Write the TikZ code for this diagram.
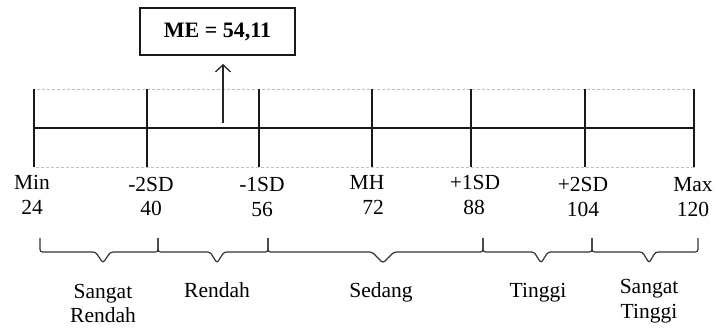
\documentclass[tikz,border=0pt]{standalone}
\usepackage{fontspec}
\setmainfont{Liberation Serif}
\usetikzlibrary{arrows.meta}
\begin{document}
\begin{tikzpicture}[x=1bp,y=-1bp,
  lab/.style={font=\fontsize{21.5bp}{24bp}\selectfont, inner sep=0pt, anchor=base},
  axis/.style={line width=1.4bp, draw=black!90},
  frame/.style={draw=black!25, line width=0.9bp, dash pattern=on 3bp off 2bp},
  brc/.style={draw=black!80, line width=1.2bp, rounded corners=2.5bp},
  mebox/.style={draw=black!90, line width=1.3bp, minimum width=155bp, minimum height=47bp,
    inner sep=0pt, font=\fontsize{22bp}{24bp}\selectfont\bfseries}]
\useasboundingbox (0,0) rectangle (716,327);

% dashed frame around the scale
\draw[frame] (34,89) rectangle (694,167);

% tick positions
\coordinate (t0) at (34,89);  \coordinate (u0) at (34,167);
\coordinate (t1) at (147,89); \coordinate (u1) at (147,167);
\coordinate (t2) at (259,89); \coordinate (u2) at (259,167);
\coordinate (t3) at (372,89); \coordinate (u3) at (372,167);
\coordinate (t4) at (471,89); \coordinate (u4) at (471,167);
\coordinate (t5) at (585,89); \coordinate (u5) at (585,167);
\coordinate (t6) at (694,89); \coordinate (u6) at (694,167);
\foreach \i in {0,...,6} \draw[axis] (t\i) -- (u\i);

% main axis line
\coordinate (axL) at (34,128);
\coordinate (axR) at (694,128);
\draw[line width=1.2bp, draw=black!90] (axL) -- (axR);

% mean marker and box
\node[mebox] (me) at (217.5,31.5) {ME = 54,11};
\coordinate (mepos) at (223,123);
\draw[line width=1.3bp, draw=black!85, -{Straight Barb[length=7bp,width=15bp]}]
  (mepos) -- (223,64);

% scale labels
\node[lab] (n0) at (32,189)  {Min};   \node[lab] (v0) at (32,214)  {24};
\node[lab] (n1) at (151,191) {-2SD};  \node[lab] (v1) at (151,215) {40};
\node[lab] (n2) at (262,191) {-1SD};  \node[lab] (v2) at (262,216) {56};
\node[lab] (n3) at (367,189) {MH};    \node[lab] (v3) at (373,214) {72};
\node[lab] (n4) at (475,189) {+1SD};  \node[lab] (v4) at (474,214) {88};
\node[lab] (n5) at (583,191) {+2SD};  \node[lab] (v5) at (583,216) {104};
\node[lab] (n6) at (693,191) {Max};   \node[lab] (v6) at (693,216) {120};

% category braces: end points, then the tip of each brace
\coordinate (b0) at (40,238);
\coordinate (b1) at (158,238);
\coordinate (b2) at (268,238);
\coordinate (b3) at (483,238);
\coordinate (b4) at (592,238);
\coordinate (b5) at (698,238);
\coordinate (p1) at (103,263);
\coordinate (p2) at (217,263);
\coordinate (p3) at (383,263);
\coordinate (p4) at (541,263);
\coordinate (p5) at (649,263);
\draw[brc] (b0) |- (95.5,252) -- (p1) -- (110.5,252) -| (b1);
\draw[brc] (b1) |- (210,252)  -- (p2) -- (224,252)   -| (b2);
\draw[brc] (b2) |- (372,252)  -- (p3) -- (394,252)   -| (b3);
\draw[brc] (b3) |- (534,252)  -- (p4) -- (548,252)   -| (b4);
\draw[brc] (b4) |- (642.5,252) -- (p5) -- (655.5,252) -| (b5);

% category names
\node[lab] (c1a) at (103,298) {Sangat};
\node[lab] (c1b) at (103,322) {Rendah};
\node[lab] (c2)  at (217,297) {Rendah};
\node[lab] (c3)  at (381,297) {Sedang};
\node[lab] (c4)  at (538,297) {Tinggi};
\node[lab] (c5a) at (649,293) {Sangat};
\node[lab] (c5b) at (649,318) {Tinggi};
\end{tikzpicture}
\end{document}
